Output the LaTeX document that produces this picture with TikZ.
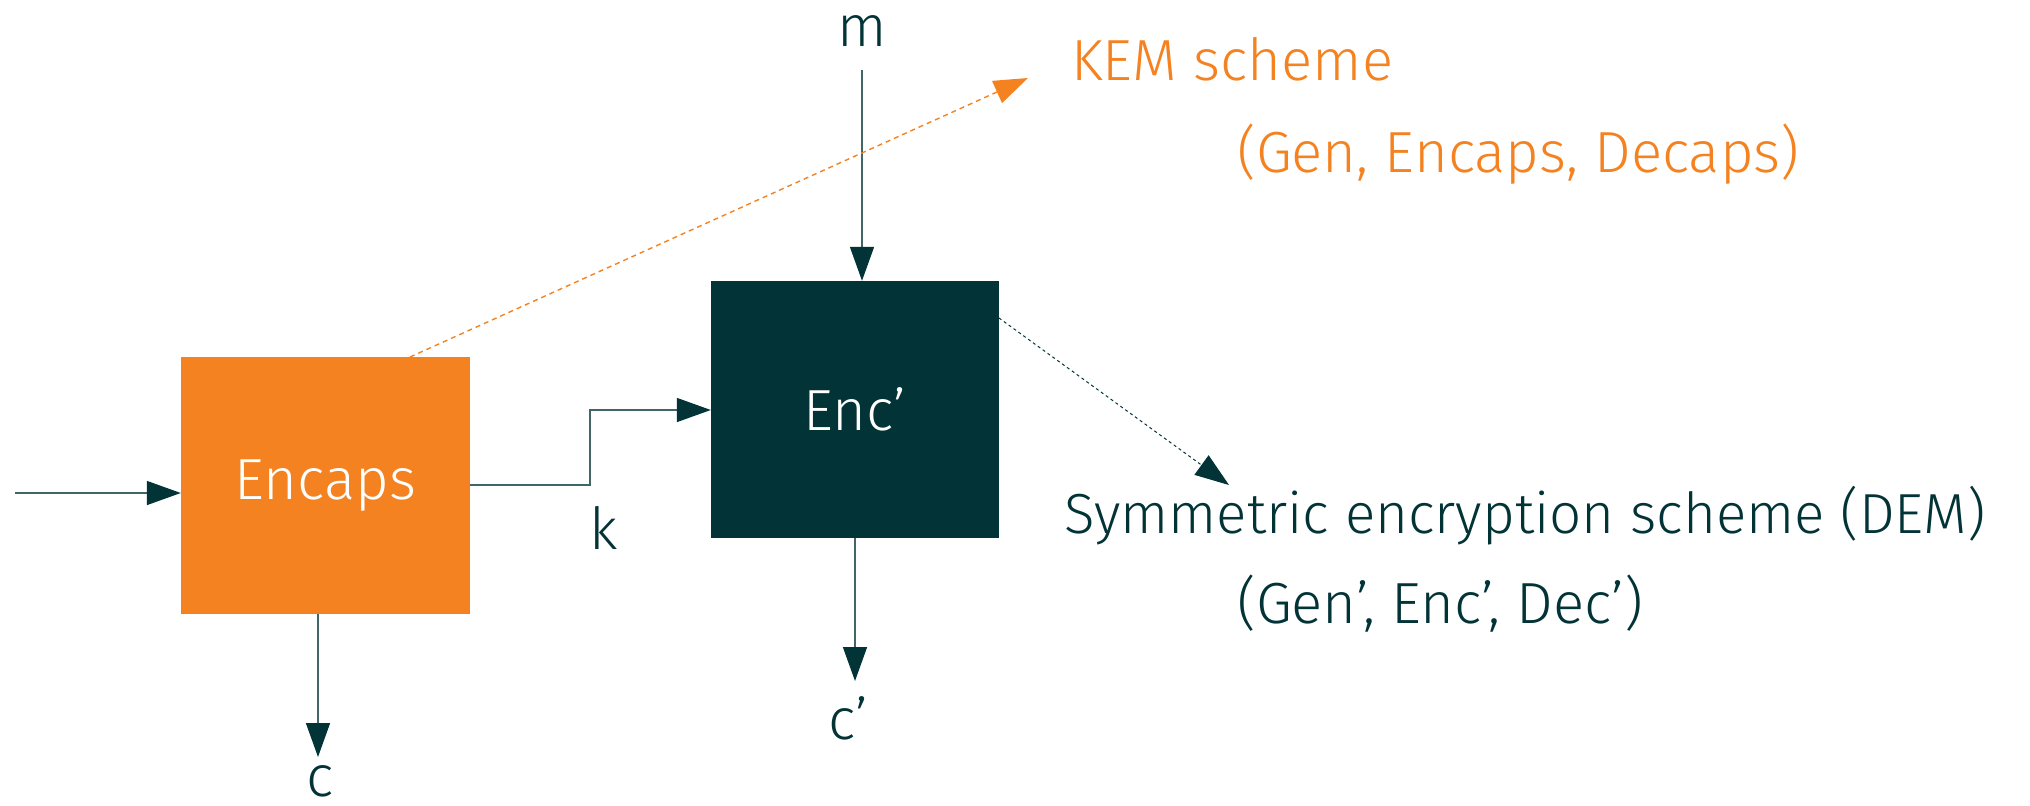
\documentclass[tikz,border=0pt]{standalone}
\usepackage{fontspec}
\setmainfont{Fira Sans}[UprightFont={* Light}]
\usetikzlibrary{arrows.meta}
\definecolor{kemorange}{HTML}{F58220}
\definecolor{demteal}{HTML}{023336}
\begin{document}
\begin{tikzpicture}[x=1pt,y=-1pt,
  big/.style={font=\fontsize{58}{70}\selectfont},
  boxA/.style={fill=kemorange,draw=none,minimum width=289pt,minimum height=257pt,inner sep=0pt,text=white,big},
  boxB/.style={fill=demteal,draw=none,minimum width=288pt,minimum height=257pt,inner sep=0pt,text=white,big},
  lbl/.style={text=demteal,big,inner sep=0pt},
  kemtxt/.style={text=kemorange,big,inner sep=0pt,anchor=base west},
  demtxt/.style={text=demteal,big,inner sep=0pt,anchor=base west},
  flow/.style={draw=demteal!75,line width=1.5pt,-{Triangle[length=34pt,width=24pt,color=demteal]}},
  kemarr/.style={draw=kemorange,line width=1.4pt,dash pattern=on 5pt off 4pt,-{Triangle[length=34pt,width=24pt,color=kemorange]}},
  demarr/.style={draw=demteal,line width=1pt,dash pattern=on 3pt off 3pt,-{Triangle[length=34pt,width=24pt,color=demteal]}}]
\useasboundingbox (0,0) rectangle (2030,806);
% boxes
\node[boxA] (enc) at (325.5,485.5) {Encaps};
\node[boxB] (encp) at (855,409.5) {Enc’};
% labels
\node[lbl] (m) at (862,31) {m};
\node[lbl] (c) at (320,781) {c};
\node[lbl] (cp) at (848,718) {c’};
\node[lbl] (k) at (604,528) {k};
\node[kemtxt] (kem) at (1071,80) {KEM scheme};
\node[kemtxt] (kemsub) at (1237,172) {(Gen, Encaps, Decaps)};
\node[demtxt,font=\fontsize{56.5}{68}\selectfont] (dem) at (1064,533) {Symmetric encryption scheme (DEM)};
\node[demtxt] (demsub) at (1237,623) {(Gen’, Enc’, Dec’)};
% coordinates
\coordinate (in) at (15,493);
\coordinate (mtop) at (862,70);
\coordinate (kx) at (590,485);
\coordinate (ky) at (590,410);
\coordinate (cx) at (318,0);
\coordinate (cpx) at (855,0);
\coordinate (cend) at (318,757);
\coordinate (cpend) at (855,681);
\coordinate (kemstart) at (410,357);
\coordinate (kemtip) at (1028,78);
\coordinate (demstart) at (999,318);
\coordinate (demtip) at (1229,485);
% connectors
\draw[flow] (in) -- (in -| enc.west);
\draw[flow] (mtop) -- (mtop |- encp.north);
\draw[flow] (enc.east |- kx) -- (kx) -- (ky) -- (ky -| encp.west);
\draw[flow] (cx |- enc.south) -- (cend);
\draw[flow] (cpx |- encp.south) -- (cpend);
\draw[kemarr] (kemstart) -- (kemtip);
\draw[demarr] (demstart) -- (demtip);
\end{tikzpicture}
\end{document}
